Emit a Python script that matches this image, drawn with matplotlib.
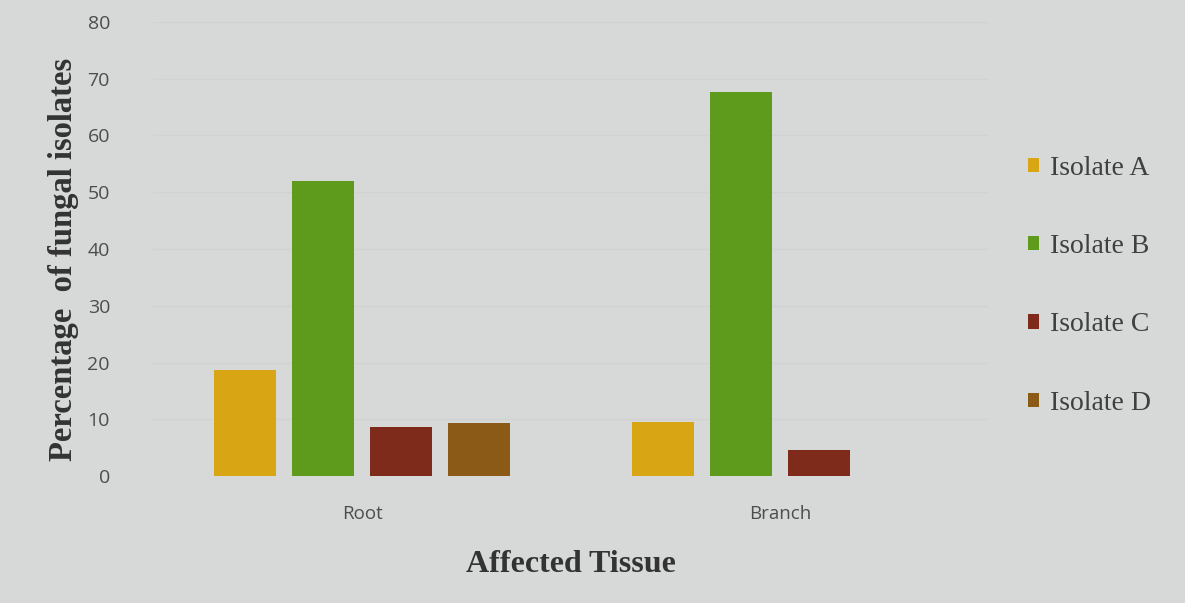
import matplotlib
matplotlib.use("Agg")
import matplotlib.pyplot as plt
import numpy as np

# Data
tissues = ["Root", "Branch"]
isolates = ["Isolate A", "Isolate B", "Isolate C", "Isolate D"]
isolate_a = [18.7, 9.5]
isolate_b = [52.0, 67.7]
isolate_c = [8.6, 4.6]
isolate_d = [9.4, 0.0]
y_ticks = [0, 10, 20, 30, 40, 50, 60, 70, 80]

series = [isolate_a, isolate_b, isolate_c, isolate_d]
colors = ["#d8a615", "#5e9b1c", "#7f2b1b", "#8a5a16"]
bg = "#d6d9d8"

fig = plt.figure(figsize=(11.85, 6.03), dpi=100, facecolor=bg)
ax = fig.add_axes([153 / 1185, 127 / 603, 836 / 1185, 454 / 603], facecolor=bg)

x = np.arange(len(tissues))
slot = 0.186
width = 0.148
for i, (vals, name, col) in enumerate(zip(series, isolates, colors)):
    ax.bar(x + (i - 1.5) * slot, vals, width, color=col, label=name, zorder=3)

ax.set_xlim(-0.5, 1.5)
ax.set_ylim(0, 80)
ax.set_yticks(y_ticks)
ax.set_xticks(x)
ax.set_xticklabels(tissues)
ax.yaxis.grid(True, color="#d0d3d2", linewidth=1.0, zorder=0)
ax.set_axisbelow(True)
for s in ax.spines.values():
    s.set_visible(False)
ax.tick_params(axis="both", length=0)
ax.tick_params(axis="y", pad=31, labelsize=14)
ax.tick_params(axis="x", pad=21, labelsize=13.5)
for lab in ax.get_xticklabels() + ax.get_yticklabels():
    lab.set_family("Open Sans")
    lab.set_color("#4d4d4d")

ax.set_ylabel("Percentage  of fungal isolates", family="Liberation Serif",
              fontweight="bold", fontsize=23.5, color="#333333")
ax.yaxis.set_label_coords(-0.0885, 0.476)
ax.set_xlabel("Affected Tissue", family="Liberation Serif", fontweight="bold",
              fontsize=23, color="#333333", labelpad=19)

leg = ax.legend(loc="upper left", bbox_to_anchor=(1.033, 0.73), frameon=False,
                prop={"family": "Liberation Serif", "size": 20},
                labelspacing=1.92, handlelength=0.42, handleheight=0.42,
                handletextpad=0.4, borderaxespad=0)
for t in leg.get_texts():
    t.set_color("#404040")

fig.savefig("out.png", dpi=100, facecolor=bg)
